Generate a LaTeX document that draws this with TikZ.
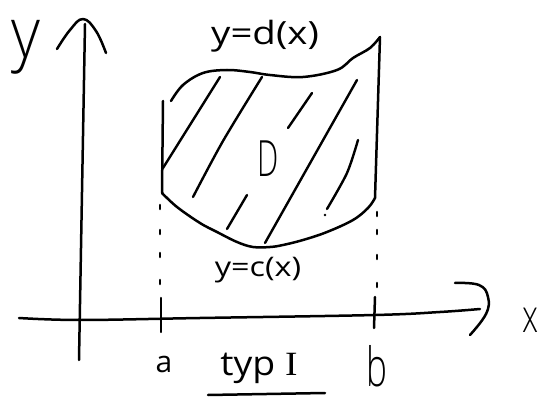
\documentclass[tikz,border=0pt]{standalone}
\usepackage{fontspec}
\setmainfont{Open Sans}
\newfontfamily\serifI{Liberation Serif}
\IfFontExistsTF{Open Sans Light}{\newfontfamily\thinfont{Open Sans Light}}{%
  \IfFontExistsTF{Lato Light}{\newfontfamily\thinfont{Lato Light}}{%
    \IfFontExistsTF{DejaVu Sans ExtraLight}{\newfontfamily\thinfont{DejaVu Sans ExtraLight}}{%
      \newfontfamily\thinfont{Open Sans}}}}
\begin{document}
\begin{tikzpicture}[x=1pt,y=-1pt,
  pen/.style={line width=2.5pt,line cap=round,line join=round},
  hatch/.style={line width=2.4pt,line cap=round},
  dotmark/.style={line width=2.6pt,line cap=round},
  lbl/.style={inner sep=0pt,anchor=base}]
\useasboundingbox (0,0) rectangle (544,398);
\fill[white] (0,0) rectangle (544,398);
% axes
\coordinate (ybot) at (79,360);
\coordinate (ytop) at (85,24);
\draw[pen] (ybot) -- (ytop);
\draw[pen] plot[smooth,tension=0.7] coordinates {(57,49) (70,30) (83,19) (96,31) (106,53)};
\draw[pen] plot[smooth,tension=0.6] coordinates {(19,318) (80,320) (200,318) (375,315) (440,312) (480,309)};
\draw[pen] plot[smooth,tension=0.7] coordinates {(455,283) (479,285) (488,297) (486,314) (470,335)};
% region boundary
\draw[pen] plot[smooth,tension=0.6] coordinates {(171,101) (183,85) (203,73) (227,70) (250,72) (270,75) (303,77) (337,70) (353,58) (370,48) (380,37)};
\draw[pen] (380,37) -- (375,198);
\draw[pen] (163,101) -- (162,193);
\draw[pen] plot[smooth,tension=0.6] coordinates {(162,193) (177,207) (200,223) (217,232) (237,242) (253,247) (270,247) (283,245) (303,240) (327,232) (353,220) (368,208) (375,198)};
% hatching
\draw[hatch] (163,168) -- (220,77);
\draw[hatch] plot[smooth] coordinates {(193,197) (223,141) (262,77)};
\draw[hatch] (227,229) -- (247,195);
\draw[hatch] (288,128) -- (312,93);
\draw[hatch] (265,243) -- (357,80);
\draw[hatch] plot[smooth] coordinates {(327,209) (347,173) (358,140)};
\fill (325,215) circle (1.3pt);
% dotted verticals
\foreach \yy in {205,230,253,280} \draw[dotmark] (160,\yy) -- (160,\yy+4);
\foreach \yy in {212,230,255,283} \draw[dotmark] (377,\yy) -- (377,\yy+4);
% ticks
\draw[pen] (161,298) -- (161,332);
\draw[pen] (375,297) -- (374,328);
% labels
\node[inner sep=0pt,font=\thinfont\fontsize{70}{70}\selectfont,xscale=0.9] (ylab) at (26,47) {y};
\node[lbl,font=\thinfont\fontsize{46}{46}\selectfont,xscale=0.7] (xlab) at (531,333) {x};
\node[lbl,font=\fontsize{32}{32}\selectfont,xscale=1.2] (dlab) at (265,45) {y=d(x)};
\node[lbl,font=\fontsize{27}{27}\selectfont,xscale=1.2] (clab) at (258,277) {y=c(x)};
\node[lbl,font=\thinfont\fontsize{50}{50}\selectfont,xscale=0.6] (Dlab) at (268,177) {D};
\node[lbl,font=\fontsize{30}{30}\selectfont] (alab) at (164,373) {a};
\node[lbl,font=\thinfont\fontsize{54}{54}\selectfont,xscale=0.65] (blab) at (377,386) {b};
\node[lbl,font=\fontsize{34}{34}\selectfont,xscale=1.1] (typ) at (259,375) {typ {\serifI I}};
\draw[pen] (208,395) -- (325,393);
\end{tikzpicture}
\end{document}
